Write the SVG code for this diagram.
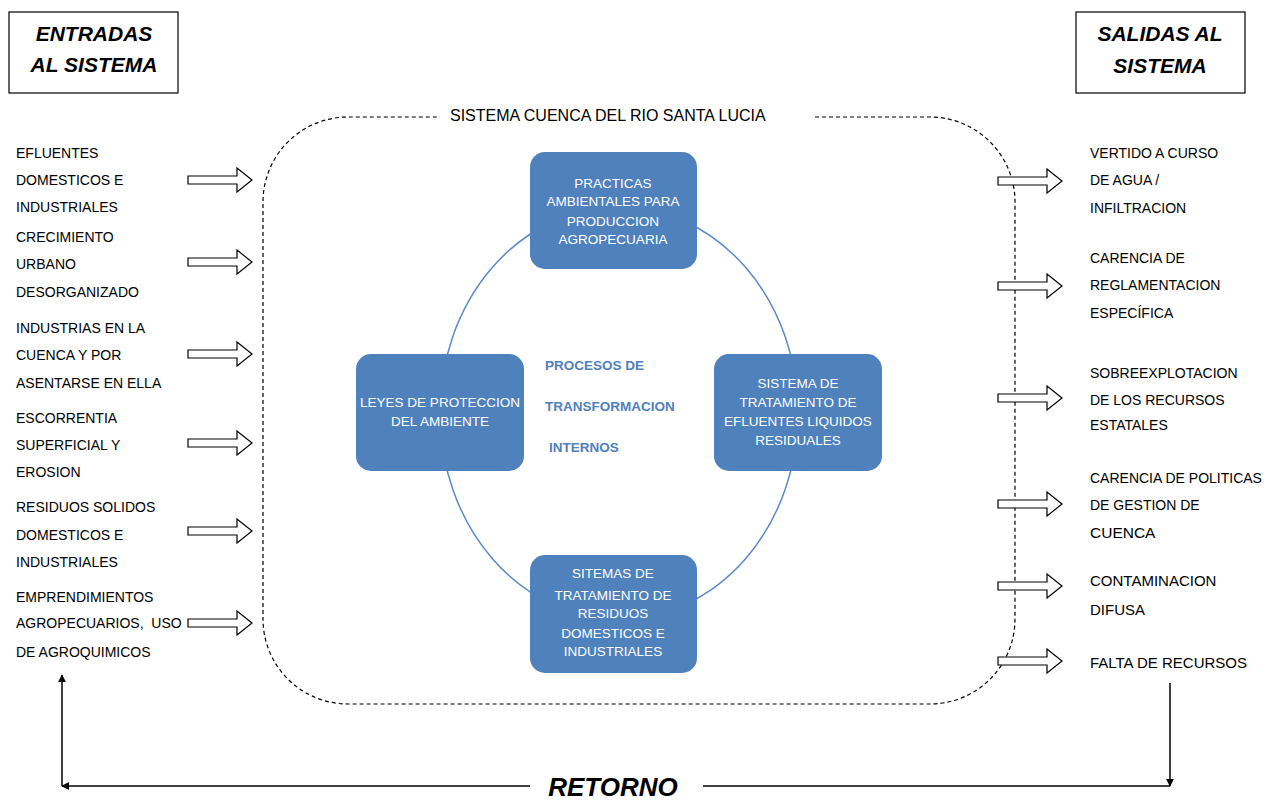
<svg xmlns="http://www.w3.org/2000/svg" width="1281" height="803" viewBox="0 0 1281 803">
<style>
.t{font-family:"Liberation Sans",Arial,sans-serif;font-size:14px;fill:#000}
.hd{font-family:"Liberation Sans",Arial,sans-serif;font-size:21px;font-weight:bold;font-style:italic;fill:#000;text-anchor:middle}
.bx{fill:#4F81BD}
.bt{font-family:"Liberation Sans",Arial,sans-serif;font-size:13.5px;fill:#fff;text-anchor:middle}
.pt{font-family:"Liberation Sans",Arial,sans-serif;font-size:13.5px;font-weight:bold;fill:#4F81BD}
.ba{fill:#fff;stroke:#000;stroke-width:1.2}
.ln{fill:none;stroke:#000;stroke-width:1.5}
</style>
<defs>
<marker id="ah" viewBox="0 0 10 10" refX="9" refY="5" markerWidth="8" markerHeight="8" orient="auto" markerUnits="userSpaceOnUse">
<path d="M0,0 L10,5 L0,10 z" fill="#000"/>
</marker>
<polygon id="barrow" points="0,-4 49,-4 49,-12 64,0 49,12 49,4 0,4"/>
</defs>
<rect width="1281" height="803" fill="#fff"/>

<g id="entradas">
<rect x="9" y="12" width="169" height="81" fill="#fff" stroke="#000" stroke-width="1.2"/>
<text class="hd" x="94" y="41">ENTRADAS</text>
<text class="hd" x="94" y="72">AL SISTEMA</text>
</g>
<g id="salidas">
<rect x="1076" y="12" width="169" height="81" fill="#fff" stroke="#000" stroke-width="1.2"/>
<text class="hd" x="1160" y="41">SALIDAS AL</text>
<text class="hd" x="1160" y="73">SISTEMA</text>
</g>

<g id="sistema">
<path d="M815,117 H930 A85,85 0 0 1 1015,202 V619 A85,85 0 0 1 930,704 H348 A85,85 0 0 1 263,619 V202 A85,85 0 0 1 348,117 H440" fill="none" stroke="#000" stroke-width="1.2" stroke-dasharray="4,3"/>
<text class="t" x="450" y="121" style="font-size:16px">SISTEMA CUENCA DEL RIO SANTA LUCIA</text>
</g>

<g id="ciclo">
<ellipse cx="619" cy="413" rx="179" ry="206" fill="none" stroke="#5B8AC6" stroke-width="1.5"/>
</g>

<g id="practicas">
<rect class="bx" x="530" y="152" width="167" height="117" rx="15"/>
<text class="bt" x="613" y="188">PRACTICAS</text>
<text class="bt" x="613" y="206">AMBIENTALES PARA</text>
<text class="bt" x="613" y="226">PRODUCCION</text>
<text class="bt" x="613" y="244">AGROPECUARIA</text>
</g>
<g id="leyes">
<rect class="bx" x="356" y="354" width="168" height="117" rx="15"/>
<text class="bt" x="440" y="407">LEYES DE PROTECCION</text>
<text class="bt" x="440" y="426">DEL AMBIENTE</text>
</g>
<g id="tratamiento-efluentes">
<rect class="bx" x="714" y="354" width="168" height="117" rx="15"/>
<text class="bt" x="798" y="388">SISTEMA DE</text>
<text class="bt" x="798" y="407">TRATAMIENTO DE</text>
<text class="bt" x="798" y="426">EFLUENTES LIQUIDOS</text>
<text class="bt" x="798" y="445">RESIDUALES</text>
</g>
<g id="tratamiento-residuos">
<rect class="bx" x="530" y="555" width="167" height="118" rx="15"/>
<text class="bt" x="613" y="578">SITEMAS DE</text>
<text class="bt" x="613" y="600">TRATAMIENTO DE</text>
<text class="bt" x="613" y="618">RESIDUOS</text>
<text class="bt" x="613" y="638">DOMESTICOS E</text>
<text class="bt" x="613" y="656">INDUSTRIALES</text>
</g>
<g id="procesos">
<text class="pt" x="545" y="370">PROCESOS DE</text>
<text class="pt" x="545" y="411">TRANSFORMACION</text>
<text class="pt" x="549" y="452">INTERNOS</text>
</g>

<g id="entradas-textos">
<text class="t" x="16" y="158">EFLUENTES</text>
<text class="t" x="16" y="185">DOMESTICOS E</text>
<text class="t" x="16" y="212">INDUSTRIALES</text>
<text class="t" x="16" y="242">CRECIMIENTO</text>
<text class="t" x="16" y="269">URBANO</text>
<text class="t" x="16" y="297">DESORGANIZADO</text>
<text class="t" x="16" y="333">INDUSTRIAS EN LA</text>
<text class="t" x="16" y="360">CUENCA Y POR</text>
<text class="t" x="16" y="388">ASENTARSE EN ELLA</text>
<text class="t" x="16" y="423">ESCORRENTIA</text>
<text class="t" x="16" y="450">SUPERFICIAL Y</text>
<text class="t" x="16" y="477">EROSION</text>
<text class="t" x="16" y="512">RESIDUOS SOLIDOS</text>
<text class="t" x="16" y="540">DOMESTICOS E</text>
<text class="t" x="16" y="567">INDUSTRIALES</text>
<text class="t" x="16" y="602">EMPRENDIMIENTOS</text>
<text class="t" x="16" y="628" xml:space="preserve">AGROPECUARIOS,  USO</text>
<text class="t" x="16" y="657">DE AGROQUIMICOS</text>
</g>

<g id="salidas-textos">
<text class="t" x="1090" y="158">VERTIDO A CURSO</text>
<text class="t" x="1090" y="185">DE AGUA /</text>
<text class="t" x="1090" y="213">INFILTRACION</text>
<text class="t" x="1090" y="263">CARENCIA DE</text>
<text class="t" x="1090" y="290">REGLAMENTACION</text>
<text class="t" x="1090" y="318">ESPECÍFICA</text>
<text class="t" x="1090" y="378">SOBREEXPLOTACION</text>
<text class="t" x="1090" y="405">DE LOS RECURSOS</text>
<text class="t" x="1090" y="430">ESTATALES</text>
<text class="t" x="1090" y="483">CARENCIA DE POLITICAS</text>
<text class="t" x="1090" y="510">DE GESTION DE</text>
<text class="t" x="1090" y="538" style="font-size:15.5px">CUENCA</text>
<text class="t" x="1090" y="586" style="font-size:15px">CONTAMINACION</text>
<text class="t" x="1090" y="615" style="font-size:15px">DIFUSA</text>
<text class="t" x="1090" y="668" style="font-size:15px">FALTA DE RECURSOS</text>
</g>

<g id="conectores">
<use href="#barrow" class="ba" x="188" y="180"/>
<use href="#barrow" class="ba" x="188" y="262"/>
<use href="#barrow" class="ba" x="188" y="354"/>
<use href="#barrow" class="ba" x="188" y="443"/>
<use href="#barrow" class="ba" x="188" y="531"/>
<use href="#barrow" class="ba" x="188" y="623"/>
<use href="#barrow" class="ba" x="998" y="181"/>
<use href="#barrow" class="ba" x="998" y="286"/>
<use href="#barrow" class="ba" x="998" y="398"/>
<use href="#barrow" class="ba" x="998" y="504"/>
<use href="#barrow" class="ba" x="998" y="586"/>
<use href="#barrow" class="ba" x="998" y="661"/>
<path class="ln" d="M1170,683 V786" marker-end="url(#ah)"/>
<path class="ln" d="M1170,786 H703"/>
<path class="ln" d="M530,786 H62" marker-end="url(#ah)"/>
<path class="ln" d="M62,786 V675" marker-end="url(#ah)"/>
</g>
<g id="retorno">
<text x="613" y="796" style="font-family:'Liberation Sans',Arial,sans-serif;font-size:26px;font-weight:bold;font-style:italic;text-anchor:middle">RETORNO</text>
</g>
</svg>
